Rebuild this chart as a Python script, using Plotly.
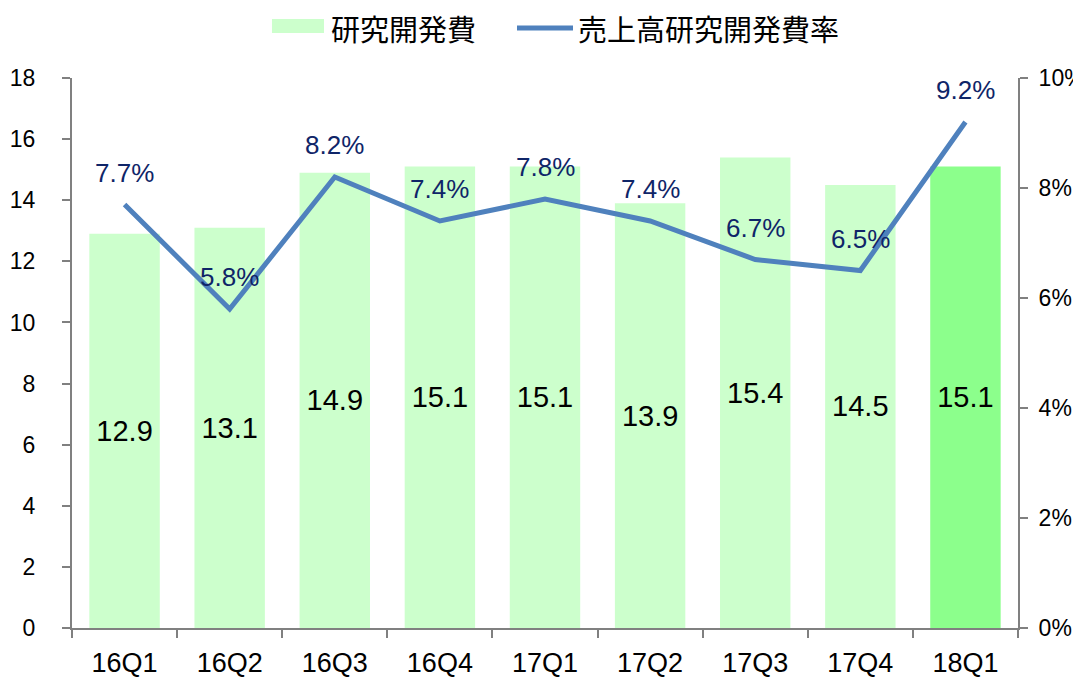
import plotly.graph_objects as go

categories = ["16Q1", "16Q2", "16Q3", "16Q4", "17Q1", "17Q2", "17Q3", "17Q4", "18Q1"]
rd_expense = [12.9, 13.1, 14.9, 15.1, 15.1, 13.9, 15.4, 14.5, 15.1]
rd_ratio = [0.077, 0.058, 0.082, 0.074, 0.078, 0.074, 0.067, 0.065, 0.092]
bar_colors = ["#ccffcc"] * 8 + ["#8cff8c"]
legend_names = ["研究開発費", "売上高研究開発費率"]

FONT = "Liberation Sans, Arial, sans-serif"
CJK = "Noto Sans CJK JP, sans-serif"
BAR_C = "#ccffcc"
LINE_C = "#4f81bd"

fig = go.Figure()
fig.add_trace(go.Bar(
    x=categories, y=rd_expense, name=legend_names[0],
    marker=dict(color=bar_colors, line=dict(width=0)),
    text=[f"{v:.1f}" for v in rd_expense], textposition="inside",
    insidetextanchor="middle", textangle=0,
    insidetextfont=dict(family=FONT, size=29, color="black"),
    hoverinfo="skip", yaxis="y",
))
fig.add_trace(go.Scatter(
    x=categories, y=rd_ratio, name=legend_names[1], mode="lines",
    line=dict(color=LINE_C, width=5), yaxis="y2",
))
for c, v in zip(categories, rd_ratio):
    fig.add_annotation(x=c, y=v, xref="x", yref="y2", yshift=32,
                       text=f"{v*100:.1f}%", showarrow=False,
                       font=dict(family=FONT, size=26, color="#0f2568"))

# hand-drawn legend (wide swatches as in the reference)
LY = 1.0909
fig.add_shape(type="rect", xref="paper", yref="paper", x0=0.2114, x1=0.2664,
              y0=1.0818, y1=1.1073, fillcolor=BAR_C, line=dict(width=0))
fig.add_annotation(xref="paper", yref="paper", x=0.2715, y=LY, xanchor="left",
                   yanchor="middle", text=legend_names[0], showarrow=False,
                   font=dict(family=CJK, size=29, color="black"))
fig.add_shape(type="line", xref="paper", yref="paper", x0=0.4704, x1=0.5296,
              y0=LY, y1=LY, line=dict(color=LINE_C, width=5))
fig.add_annotation(xref="paper", yref="paper", x=0.5326, y=LY, xanchor="left",
                   yanchor="middle", text=legend_names[1], showarrow=False,
                   font=dict(family=CJK, size=29, color="black"))

fig.update_layout(
    width=1073, height=672,
    margin=dict(l=64, r=63, t=70, b=52, autoexpand=False),
    paper_bgcolor="white", plot_bgcolor="white",
    bargap=0.33,
    showlegend=False,
    xaxis=dict(showline=True, linecolor="#808080", linewidth=2, automargin=False,
               ticks="outside", tickson="boundaries", ticklen=8, tickcolor="#808080",
               tickwidth=2, tickfont=dict(family=FONT, size=27, color="black"),
               showgrid=False, ticklabelstandoff=10),
    yaxis=dict(range=[0, 18], dtick=2, showline=True, linecolor="#808080", linewidth=2,
               automargin=False,
               ticks="outside", ticklen=8, tickcolor="#808080", tickwidth=2,
               tickfont=dict(family=FONT, size=23, color="black"),
               showgrid=False, zeroline=False, ticklabelstandoff=22),
    yaxis2=dict(range=[0, 0.10], dtick=0.02, tickformat=".0%", overlaying="y", side="right",
                automargin=False,
                showline=True, linecolor="#808080", linewidth=2,
                ticks="outside", ticklen=8, tickcolor="#808080", tickwidth=2,
                tickfont=dict(family=FONT, size=23, color="black"),
                showgrid=False, zeroline=False, ticklabelstandoff=6),
)

fig.write_html("out.html")
